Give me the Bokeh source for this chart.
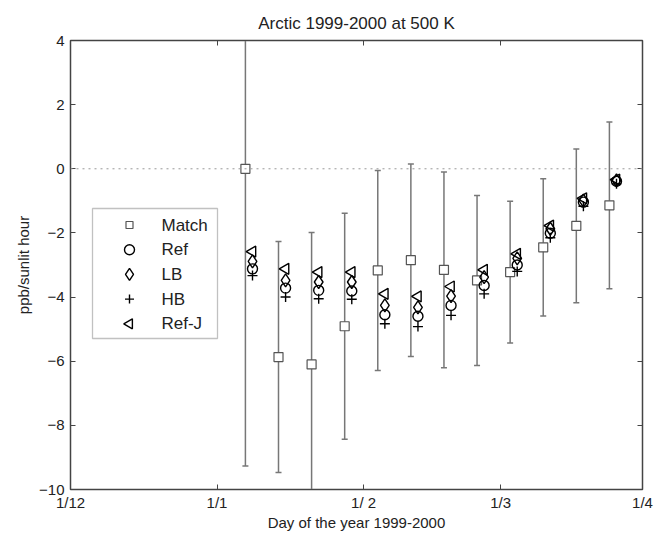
import numpy as np
from bokeh.plotting import figure
from bokeh.models import (ColumnDataSource, FixedTicker, LinearAxis, Span, Range1d, BoxAnnotation, Label)
from bokeh.embed import file_html
from bokeh.resources import INLINE

# Days since 1 Dec 1999
tick_days = [0, 31, 62, 91, 121]
tick_labels = ["1/12", "1/1", "1/ 2", "1/3", "1/4"]
y_ticks = [-10, -8, -6, -4, -2, 0, 2, 4]

match_days = [37, 44, 51, 58, 65, 72, 79, 86, 93, 100, 107, 114]
match_vals = [0.0, -5.87, -6.10, -4.91, -3.17, -2.85, -3.15, -3.48, -3.22, -2.45, -1.78, -1.14]
match_err = [9.27, 3.60, 4.11, 3.52, 3.12, 3.00, 3.05, 2.65, 2.21, 2.14, 2.40, 2.60]

ref_vals = [-3.12, -3.72, -3.79, -3.81, -4.55, -4.60, -4.26, -3.64, -3.00, -2.01, -1.04, -0.39]
lb_vals = [-2.89, -3.48, -3.53, -3.53, -4.26, -4.32, -3.97, -3.38, -2.79, -1.87, -0.99, -0.36]
hb_vals = [-3.33, -4.00, -4.05, -4.07, -4.83, -4.92, -4.57, -3.90, -3.20, -2.15, -1.17, -0.47]
refj_vals = [-2.58, -3.12, -3.22, -3.22, -3.90, -3.98, -3.67, -3.15, -2.65, -1.77, -0.92, -0.34]

legend_labels = ["Match", "Ref", "LB", "HB", "Ref-J"]

model_offset = 1.5
model_days = [d + model_offset for d in match_days]

FONT = "Liberation Sans"
TXT = "#222222"
AX = "#444444"

X0, X1 = 0, 121
Y0, Y1 = -10, 4
FW, FH = 572, 449
BL, BT = 70, 40

p = figure(frame_width=FW, frame_height=FH, output_backend="svg", toolbar_location=None,
           x_range=Range1d(X0, X1), y_range=Range1d(Y0, Y1),
           min_border_left=BL, min_border_right=12, min_border_top=BT, min_border_bottom=40,
           background_fill_color="white", border_fill_color="white")
p.title.text = "Arctic 1999-2000 at 500 K"
p.title.align = "center"
p.title.text_font = FONT
p.title.text_font_size = "17px"
p.title.text_font_style = "normal"
p.title.text_color = TXT
p.title.standoff = 15
p.grid.visible = False
p.outline_line_color = AX
p.outline_line_width = 1.5

xt = FixedTicker(ticks=tick_days)
yt = FixedTicker(ticks=y_ticks)
p.xaxis.ticker = xt
p.xaxis.major_label_overrides = {d: l for d, l in zip(tick_days, tick_labels)}
p.yaxis.ticker = yt
p.xaxis.axis_label = "Day of the year 1999-2000"
p.yaxis.axis_label = "ppb/sunlit hour"
for ax in (p.xaxis[0], p.yaxis[0]):
    ax.axis_label_text_font = FONT
    ax.axis_label_text_font_size = "15px"
    ax.axis_label_text_font_style = "normal"
    ax.axis_label_text_color = TXT
    ax.major_label_text_font = FONT
    ax.major_label_text_font_size = "15px"
    ax.major_label_text_color = TXT
    ax.major_tick_in = 5
    ax.major_tick_out = 0
    ax.minor_tick_line_color = None
    ax.axis_line_color = AX
    ax.major_tick_line_color = AX
p.xaxis.axis_label_standoff = 0
p.xaxis.major_label_standoff = 4
p.yaxis.axis_label_standoff = 4
p.yaxis.major_label_standoff = 6

top = LinearAxis(ticker=xt, major_label_overrides={d: "" for d in tick_days},
                 major_tick_in=5, major_tick_out=0, minor_tick_line_color=None,
                 axis_line_color=AX, major_tick_line_color=AX)
right = LinearAxis(ticker=yt, major_label_overrides={v: "" for v in y_ticks},
                   major_tick_in=5, major_tick_out=0, minor_tick_line_color=None,
                   axis_line_color=AX, major_tick_line_color=AX)
p.add_layout(top, "above")
p.add_layout(right, "right")

p.add_layout(Span(location=0, dimension="width", line_color="#999999", line_dash="2 4", line_width=1))

mv = np.array(match_vals)
me = np.array(match_err)
src = ColumnDataSource(dict(x=match_days, y=match_vals, lo=mv - me, hi=mv + me))
p.segment(x0="x", x1="x", y0="lo", y1="hi", source=src, line_color="#777777", line_width=1.5)
p.scatter(x="x", y="lo", source=src, marker="dash", size=6, line_color="#777777", line_width=1.5)
p.scatter(x="x", y="hi", source=src, marker="dash", size=6, line_color="#777777", line_width=1.5)

styles = [
    dict(marker="square", size=9, fill_color="white", line_color="#555555", line_width=1.2),
    dict(marker="circle", size=10, fill_color=None, line_color="black", line_width=1.4),
    dict(marker="diamond", size=13, fill_color=None, line_color="black", line_width=1.4),
    dict(marker="cross", size=10, line_color="black", line_width=1.4),
    dict(marker="triangle", angle=np.pi / 2, size=11, fill_color=None, line_color="black", line_width=1.4),
]
series = [(match_days, match_vals), (model_days, ref_vals), (model_days, lb_vals),
          (model_days, hb_vals), (model_days, refj_vals)]
for (xs, ys), st in zip(series, styles):
    p.scatter(xs, ys, **st)

# --- manual legend (positions in pixels of the frame, converted to data units) ---
def dx(px):
    return X0 + px / FW * (X1 - X0)

def dy(py):
    return Y1 - py / FH * (Y1 - Y0)

box_l, box_r, box_t, box_b = 22, 147, 168, 298
p.add_layout(BoxAnnotation(left=dx(box_l), right=dx(box_r), top=dy(box_t), bottom=dy(box_b),
                           fill_color="white", fill_alpha=1.0, line_color="#333333", line_width=1.3,
                           level="annotation"))
row0, row_step = 184.5, 24.7
mk_x, tx_x = 59, 91
leg_sizes = [7, 10, 12, 9, 10]
for i, (lab, st) in enumerate(zip(legend_labels, styles)):
    yy = dy(row0 + i * row_step)
    s = dict(st)
    s["size"] = leg_sizes[i]
    p.scatter([dx(mk_x)], [yy], level="overlay", **s)
    p.add_layout(Label(x=dx(tx_x), y=yy, text=lab, text_font=FONT, text_font_size="17px",
                       text_color=TXT, text_baseline="middle", text_align="left", level="overlay"))

open("out.html", "w").write(file_html(p, INLINE))
